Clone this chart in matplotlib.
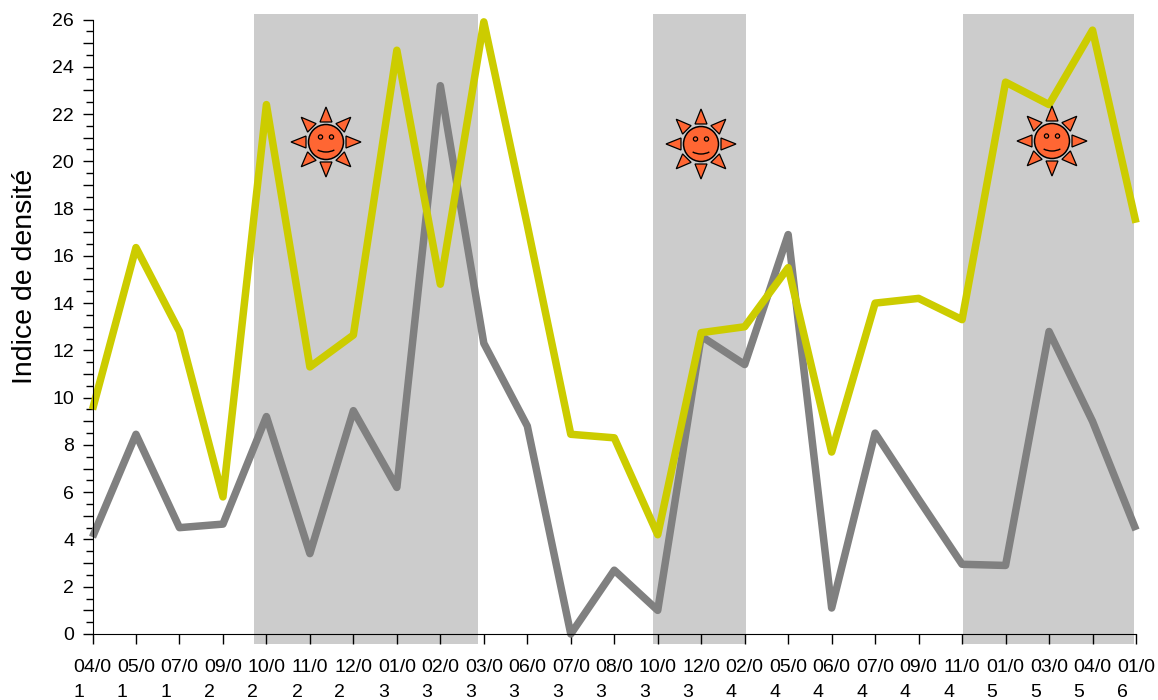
#!/usr/bin/env python3
"""Indice de densite, two series over sampling dates with shaded summer periods."""

import numpy as np
import matplotlib
matplotlib.use('Agg')
import matplotlib.pyplot as plt
from matplotlib.patches import Circle, Polygon, Arc

plt.rcParams['font.family'] = ['Liberation Sans', 'DejaVu Sans']

W, H = 1158, 700

dates = ['04/0\n1', '05/0\n1', '07/0\n1', '09/0\n2', '10/0\n2', '11/0\n2', '12/0\n2',
         '01/0\n3', '02/0\n3', '03/0\n3', '06/0\n3', '07/0\n3', '08/0\n3', '10/0\n3',
         '12/0\n3', '02/0\n4', '05/0\n4', '06/0\n4', '07/0\n4', '09/0\n4', '11/0\n4',
         '01/0\n5', '03/0\n5', '04/0\n5', '01/0\n6']
grey_values = [4.1, 8.45, 4.5, 4.65, 9.2, 3.4, 9.45, 6.2, 23.2, 12.3, 8.8, 0.0, 2.7,
               1.0, 12.6, 11.4, 16.9, 1.1, 8.5, 5.7, 2.95, 2.9, 12.8, 9.0, 4.4]
yellow_values = [9.5, 16.35, 12.8, 5.8, 22.4, 11.3, 12.65, 24.7, 14.8, 25.9, 17.3, 8.45,
                 8.3, 4.2, 12.75, 13.0, 15.5, 7.7, 14.0, 14.2, 13.3, 23.35, 22.4, 25.55, 17.4]
shaded_periods = [(3.71, 8.87), (12.88, 15.02), (20.01, 23.96)]
sun_centres = [(326, 142), (701, 144), (1052, 141)]


def draw_sun(ax, cx, cy):
    """Smiling sun, in pixel coordinates of the overlay axes."""
    orange = '#FF6633'
    for angle in np.arange(0, 360, 45):
        a = np.deg2rad(angle)
        u = np.array([np.cos(a), np.sin(a)])
        v = np.array([-u[1], u[0]])
        c = np.array([cx, cy])
        pts = [c + 35 * u, c + 20 * u + 6 * v, c + 20 * u - 6 * v]
        ax.add_patch(Polygon(pts, closed=True, fc=orange, ec='black', lw=0.9))
    ax.add_patch(Circle((cx, cy), 17.5, fc=orange, ec='black', lw=1.1))
    for dx in (-5.5, 5.5):
        ax.add_patch(Circle((cx + dx, cy - 5), 2.1, fc=orange, ec='black', lw=0.9))
    ax.add_patch(Arc((cx, cy - 2), 30, 24, theta1=50, theta2=130, ec='black', lw=1.0))


fig = plt.figure(figsize=(W / 100, H / 100), dpi=100, facecolor='white')
left, right, top, bottom = 92.5, 1136, 19.5, 634
ax = fig.add_axes([left / W, 1 - bottom / H, (right - left) / W, (bottom - top) / H])
ax.set_xlim(0, len(dates) - 1)
ax.set_ylim(0, 26)
ax.patch.set_visible(False)

x = np.arange(len(dates))
for start, end in shaded_periods:
    ax.fill_between([start, end], -0.42, 26.24, color='#CCCCCC', lw=0, clip_on=False, zorder=0)

ax.plot(x, grey_values, color='#808080', lw=5.4, solid_joinstyle='round',
        solid_capstyle='butt', clip_on=False, zorder=3)
ax.plot(x, yellow_values, color='#CCCC00', lw=5.4, solid_joinstyle='round',
        solid_capstyle='butt', clip_on=False, zorder=4)

ax.spines['top'].set_visible(False)
ax.spines['right'].set_visible(False)
ax.spines['left'].set_zorder(5)
ax.spines['bottom'].set_zorder(5)

ax.set_xticks(x)
# second line of each date starts at the left edge of the first
ax.set_xticklabels(dates, linespacing=1.68, multialignment='left')
ax.set_yticks(np.arange(0, 27))
ax.set_yticklabels([str(v) if v % 2 == 0 else '' for v in range(27)])
ax.set_yticks(np.arange(0.5, 26, 1), minor=True)
ax.tick_params(axis='x', length=7.2, width=1, labelsize=14, pad=10.5)
ax.tick_params(axis='y', which='major', length=7.2, width=1, labelsize=14, pad=6)
ax.tick_params(axis='y', which='minor', length=5, width=1)
fig.text(25 / W, 1 - 276 / H, 'Indice de densité', rotation=90, fontsize=20.5,
         ha='center', va='center')

overlay = fig.add_axes([0, 0, 1, 1])
overlay.set_xlim(0, W)
overlay.set_ylim(H, 0)
overlay.axis('off')
for cx, cy in sun_centres:
    draw_sun(overlay, cx, cy)

fig.savefig('out.png', dpi=100, facecolor='white')
